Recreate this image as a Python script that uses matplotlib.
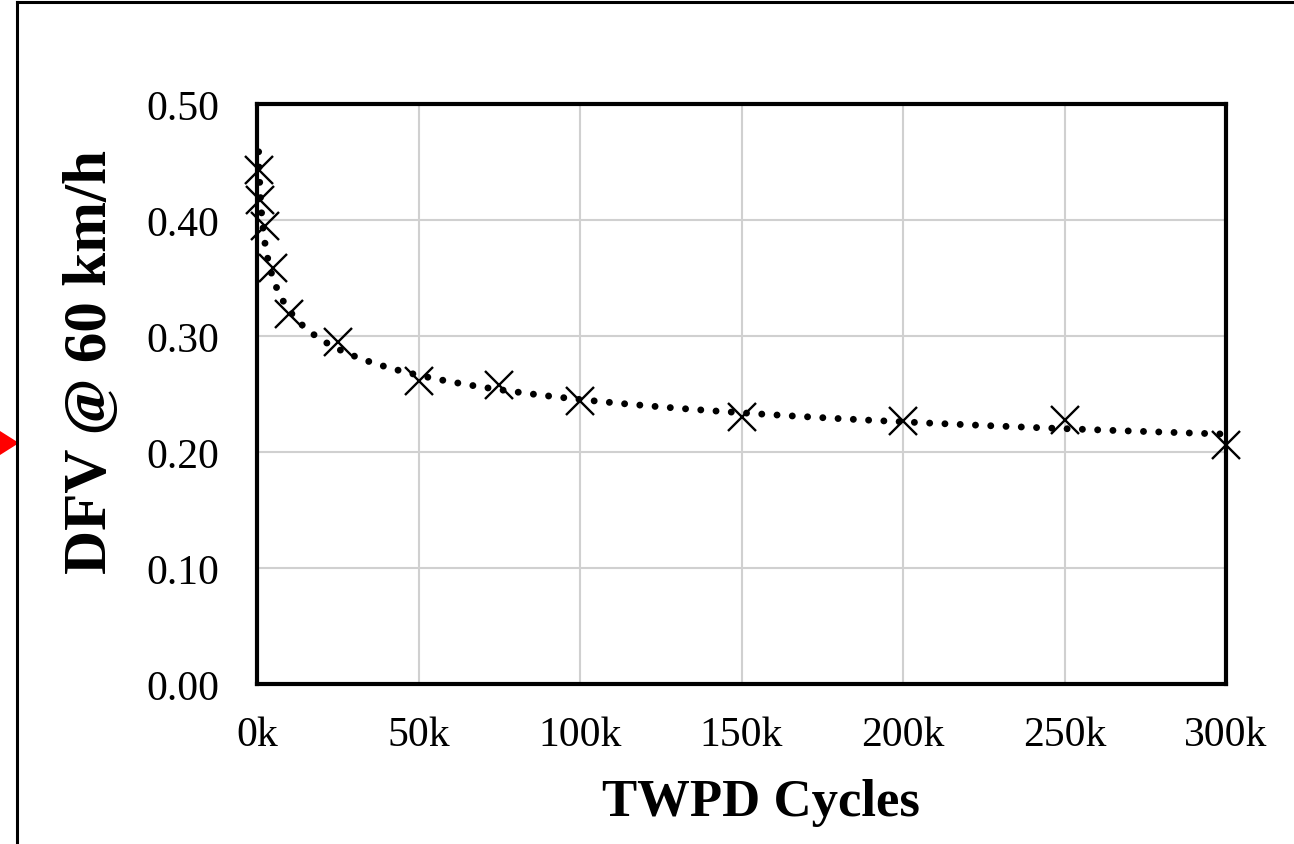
import numpy as np
import matplotlib
matplotlib.use("Agg")
import matplotlib.pyplot as plt
from matplotlib.lines import Line2D
from matplotlib.patches import Polygon
from matplotlib.ticker import FuncFormatter, MultipleLocator

# Measured deflection values against loading cycles
cycles = [500, 1000, 2500, 5000, 10000, 25000, 50000, 75000, 100000,
          150000, 200000, 250000, 300000]
dfv = [0.443, 0.417, 0.395, 0.359, 0.319, 0.295, 0.261, 0.258, 0.244,
       0.230, 0.227, 0.228, 0.206]

x_label = "TWPD Cycles"
y_label = "DFV @ 60 km/h"

W, H = 1294, 845
fig = plt.figure(figsize=(W / 100, H / 100), dpi=100)
serif = "Liberation Serif"

ax = fig.add_axes([257 / W, 1 - 685 / H, (1226 - 257) / W, (685 - 105) / H])

# power-law trendline fitted in log space
b, ln_a = np.polyfit(np.log(cycles), np.log(dfv), 1)
xs = np.geomspace(min(cycles), max(cycles), 600)
ys = np.exp(ln_a) * xs ** b

ax.plot(cycles, dfv, linestyle="none", marker="x", markersize=20,
        markeredgewidth=1.7, color="black", clip_on=False, zorder=3)
ax.plot(xs, ys, color="black", linewidth=5.0, linestyle=(0, (0.001, 2.2)),
        dash_capstyle="round", clip_on=False, zorder=4)

ax.set_xlim(0, 300000)
ax.set_ylim(0, 0.5)
ax.xaxis.set_major_locator(MultipleLocator(50000))
ax.yaxis.set_major_locator(MultipleLocator(0.1))
ax.xaxis.set_major_formatter(FuncFormatter(lambda v, p: f"{v / 1000:.0f}k"))
ax.yaxis.set_major_formatter(FuncFormatter(lambda v, p: f"{v:.2f}"))
ax.grid(True, color="#d0d0d0", linewidth=1.5)
ax.set_axisbelow(True)
ax.tick_params(axis="both", length=0, labelsize=30)
ax.tick_params(axis="y", pad=27)
ax.tick_params(axis="x", pad=23)
for lab in ax.get_xticklabels() + ax.get_yticklabels():
    lab.set_fontfamily(serif)
for sp in ax.spines.values():
    sp.set_linewidth(3)
    sp.set_color("black")

fig.text(761 / W, 1 - 816 / H, x_label, fontsize=38, fontweight="bold",
         family=serif, ha="center", va="baseline")
fig.text(91 / W, 1 - 362 / H, y_label, fontsize=44, fontweight="bold",
         family=serif, ha="center", va="center", rotation=90)

# outer frame and side marker
fig.add_artist(Line2D([17 / W, 17 / W], [0, 1 - 3 / H], color="black",
                      linewidth=2.2, transform=fig.transFigure))
fig.add_artist(Line2D([17 / W, 1], [1 - 3 / H, 1 - 3 / H], color="black",
                      linewidth=2.2, transform=fig.transFigure))
tri = Polygon([[0, 1 - 432 / H], [19 / W, 1 - 444 / H], [0, 1 - 456 / H]],
              closed=True, facecolor="red", edgecolor="none",
              transform=fig.transFigure)
fig.add_artist(tri)

fig.savefig("out.png", dpi=100, facecolor="white")
